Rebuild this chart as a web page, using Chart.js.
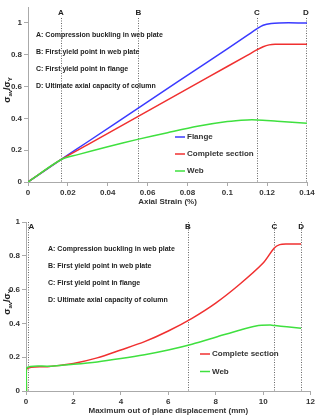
<!DOCTYPE html>
<html><head><meta charset="utf-8">
<script src="https://cdn.jsdelivr.net/npm/chart.js@4/dist/chart.umd.min.js"></script>
<style>
html,body{margin:0;padding:0;background:#fff;}
#wrap{position:relative;width:317px;height:419px;}
canvas{position:absolute;left:0;}
#c1{top:0;} #c2{top:210px;}
</style></head><body>
<div id="wrap"><canvas id="c1" width="317" height="210"></canvas><canvas id="c2" width="317" height="209"></canvas></div>
<script>
// ---- Top chart data (Axial strain %) ----
const flangeX   = [0, 0.0165, 0.03, 0.06, 0.09, 0.11, 0.1148, 0.118, 0.122, 0.126, 0.14];
const flangeY   = [0, 0.14, 0.253, 0.504, 0.754, 0.921, 0.962, 0.985, 0.997, 1.0, 1.0];
const completeX = [0, 0.0165, 0.03, 0.06, 0.09, 0.11, 0.1148, 0.118, 0.121, 0.124, 0.14];
const completeY = [0, 0.14, 0.235, 0.445, 0.656, 0.796, 0.83, 0.85, 0.862, 0.866, 0.866];
const webX      = [0, 0.0165, 0.025, 0.04, 0.055, 0.07, 0.085, 0.1, 0.11, 0.115, 0.125, 0.14];
const webY      = [0, 0.14, 0.172, 0.222, 0.268, 0.31, 0.35, 0.38, 0.39, 0.39, 0.382, 0.37];
const topMarkers = [0.0165, 0.0554, 0.1148, 0.1395];
const markerLetters = ['A', 'B', 'C', 'D'];
const notes = ['A: Compression buckling in web plate', 'B: First yield point in web plate',
               'C: First yield point in flange', 'D: Ultimate axial capacity of column'];

// ---- Bottom chart data (Max out of plane displacement mm) ----
const dispCompleteX = [0.02, 0.02, 1, 2, 3, 4, 5, 6, 7, 8, 9, 10, 10.47, 10.7, 11, 11.6];
const dispCompleteY = [0, 0.13, 0.145, 0.163, 0.196, 0.243, 0.292, 0.355, 0.43, 0.52, 0.63, 0.757, 0.846, 0.866, 0.87, 0.87];
const dispWebX = [0.02, 0.02, 1, 2, 3, 4, 5, 6, 7, 8, 9, 9.7, 10.3, 10.5, 11, 11.6];
const dispWebY = [0, 0.135, 0.147, 0.158, 0.172, 0.192, 0.215, 0.243, 0.277, 0.318, 0.36, 0.385, 0.39, 0.387, 0.38, 0.372];
const bottomMarkers = [0.1, 6.83, 10.47, 11.6];

const BLUE = '#3a3aff', RED = '#f03030', GREEN = '#3fe03f';
const FONT = 'Liberation Sans, Arial, sans-serif';

function pts(xs, ys){ return xs.map((x,i)=>({x:x, y:ys[i]})); }

const overlay = {
  id: 'overlay',
  beforeDatasetsDraw(chart, args, o){
    const {ctx, chartArea, scales:{x}} = chart;
    ctx.save();
    ctx.strokeStyle = '#666'; ctx.lineWidth = 1; ctx.setLineDash([1,1.5]);
    o.markers.forEach((v)=>{
      const px = Math.round(x.getPixelForValue(v)) + 0.5;
      ctx.beginPath(); ctx.moveTo(px, o.lineTop); ctx.lineTo(px, chartArea.bottom); ctx.stroke();
    });
    ctx.restore();
  },
  afterDatasetsDraw(chart, args, o){
    const {ctx, scales:{x}} = chart;
    ctx.save();
    ctx.fillStyle = '#222';
    ctx.font = 'bold 8px ' + FONT; ctx.textAlign = 'center'; ctx.textBaseline = 'middle';
    o.markers.forEach((v,i)=>{
      const px = x.getPixelForValue(v);
      ctx.fillText(markerLetters[i], px + (o.letterDx[i]||0), o.letterY);
    });
    // notes
    ctx.font = 'bold 7px ' + FONT; ctx.textAlign = 'left'; ctx.fillStyle = '#222';
    notes.forEach((t,i)=>{ ctx.fillText(t, o.noteX, o.noteY + i*o.noteGap); });
    // legend
    ctx.font = 'bold 8px ' + FONT; ctx.fillStyle = '#333';
    o.legendOrder.forEach((di,k)=>{
      const ds = chart.data.datasets[di];
      const yy = o.legY + k*o.legGap;
      ctx.strokeStyle = ds.borderColor; ctx.lineWidth = 1.5; ctx.setLineDash([]);
      ctx.beginPath(); ctx.moveTo(o.legX, yy); ctx.lineTo(o.legX+10, yy); ctx.stroke();
      ctx.fillText(ds.label, o.legX+12, yy);
    });
    // y title with subscripts
    ctx.translate(o.yTitleX, o.yTitleY); ctx.rotate(-Math.PI/2);
    const parts = [['σ',0],['av',1],['/',0],['σ',0],['Y',1]];
    const big = 'bold 9px ' + FONT, small = 'bold 6px ' + FONT;
    let w = 0;
    parts.forEach(p=>{ ctx.font = p[1]?small:big; w += ctx.measureText(p[0]).width; });
    let cx = -w/2;
    ctx.textAlign = 'left'; ctx.fillStyle = '#222';
    parts.forEach(p=>{ ctx.font = p[1]?small:big; ctx.fillText(p[0], cx, p[1]?2.5:0); cx += ctx.measureText(p[0]).width; });
    ctx.restore();
  }
};

function axisCommon(){
  return {
    border: {display:true, color:'#aaa'},
    grid: {display:true, drawOnChartArea:false, drawTicks:true, tickLength:4, color:'#aaa'},
    ticks: {color:'#333', font:{family:FONT, size:8, weight:'bold'}}
  };
}

function makeChart(id, datasets, cfg){
  const xa = axisCommon(), ya = axisCommon();
  Object.assign(xa, {type:'linear', min:0, max:cfg.xmax,
    afterFit: s => { s.height = cfg.xH; },
    title:{display:true, text:cfg.xTitle, color:'#333', font:{family:FONT, size:8, weight:'bold'}, padding:{top:0,bottom:3}}});
  xa.ticks = Object.assign(xa.ticks, {stepSize:cfg.xStep, padding:2, maxRotation:0, autoSkip:false,
    callback: v => String(+v.toFixed(2))});
  Object.assign(ya, {type:'linear', min:0, max:cfg.ymax,
    afterFit: s => { s.width = cfg.yW; },
    afterBuildTicks: s => { s.ticks = s.ticks.filter(t => t.value <= 1.0001); }});
  ya.ticks = Object.assign(ya.ticks, {stepSize:0.2, padding:2, callback: v => String(+v.toFixed(1))});
  return new Chart(document.getElementById(id), {
    type:'scatter',
    data:{datasets},
    options:{
      responsive:false, animation:false, devicePixelRatio:1,
      layout:{padding:cfg.pad},
      scales:{x:xa, y:ya},
      plugins:{legend:{display:false}, tooltip:{enabled:false}, overlay:cfg.overlay},
      elements:{point:{radius:0}, line:{borderWidth:1.5, tension:0.3}}
    },
    plugins:[overlay]
  });
}

makeChart('c1', [
  {label:'Flange', data:pts(flangeX, flangeY), showLine:true, borderColor:BLUE, order:2},
  {label:'Complete section', data:pts(completeX, completeY), showLine:true, borderColor:RED, order:1},
  {label:'Web', data:pts(webX, webY), showLine:true, borderColor:GREEN, order:0}
], {xmax:0.14, xStep:0.02, ymax:1.1, xH:28, yW:28, xTitle:'Axial Strain (%)',
    pad:{left:0, right:10, top:7, bottom:0},
    overlay:{markers:topMarkers, lineTop:18, letterY:13, letterDx:[0,0,0,0],
      noteX:36, noteY:35, noteGap:17, legendOrder:[0,1,2], legX:175, legY:137, legGap:17,
      yTitleX:8, yTitleY:90}});

makeChart('c2', [
  {label:'Complete section', data:pts(dispCompleteX, dispCompleteY), showLine:true, borderColor:RED, order:1},
  {label:'Web', data:pts(dispWebX, dispWebY), showLine:true, borderColor:GREEN, order:0}
], {xmax:12, xStep:2, ymax:1, xH:28, yW:26, xTitle:'Maximum out of plane displacement (mm)',
    pad:{left:0, right:4, top:12, bottom:0},
    overlay:{markers:bottomMarkers, lineTop:12, letterY:17, letterDx:[3,0,0,0],
      noteX:48, noteY:39, noteGap:17, legendOrder:[0,1], legX:200, legY:144, legGap:17.5,
      yTitleX:8, yTitleY:92}});
</script>
</body></html>
